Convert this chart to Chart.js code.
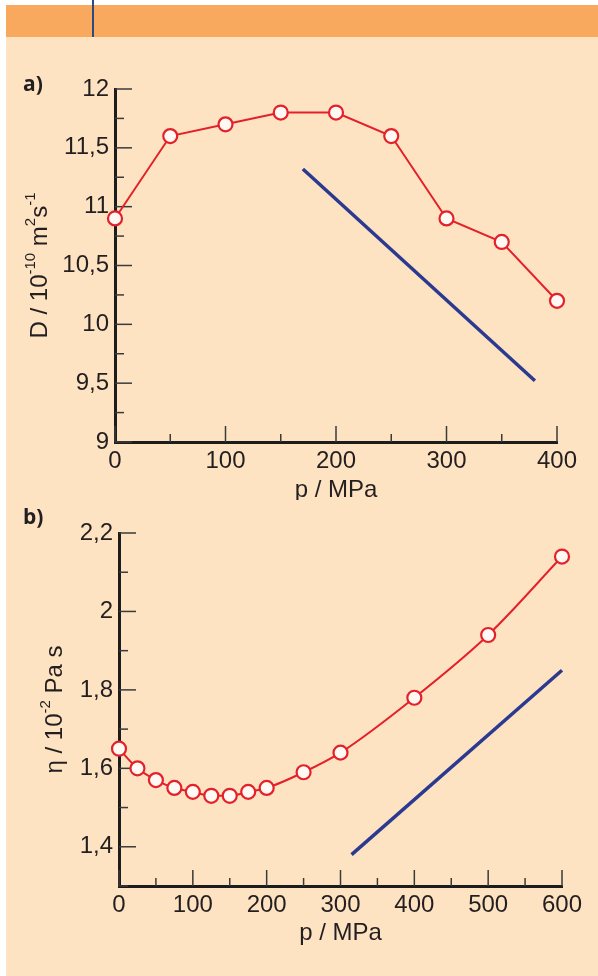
<!DOCTYPE html>
<html>
<head>
<meta charset="utf-8">
<script src="https://cdn.jsdelivr.net/npm/chart.js@4.4.1/dist/chart.umd.min.js"></script>
<style>
  body { margin: 0; background: #fff; width: 598px; height: 976px; position: relative; overflow: hidden; }
  #panel { position: absolute; left: 6px; top: 37px; width: 592px; height: 939px; background: #fee3c2; }
  #band { position: absolute; left: 6px; top: 5px; width: 592px; height: 32px; background: #f9a95e; }
  #rule { position: absolute; left: 92px; top: 0; width: 1.5px; height: 37px; background: #2d4b7c; }
  .tag { position: absolute; left: 23px; font: bold 21px "Open Sans", "DejaVu Sans", sans-serif; color: #231f20; }
  canvas { position: absolute; left: 0; }
</style>
</head>
<body>
<div id="panel"></div>
<div id="band"></div>
<div id="rule"></div>
<canvas id="chart_a" width="598" height="500" style="top:0"></canvas>
<canvas id="chart_b" width="598" height="476" style="top:500px"></canvas>
<div class="tag" style="top:69px">a)</div>
<div class="tag" style="top:502px">b)</div>
<script>
// panel a: diffusion coefficient vs pressure
const pressureA = [0, 50, 100, 150, 200, 250, 300, 350, 400];
const diffusion = [10.9, 11.6, 11.7, 11.8, 11.8, 11.6, 10.9, 10.7, 10.2];
const trendAx = [170, 380];
const trendAy = [11.32, 9.52];
const xLabelsA = [0, 100, 200, 300, 400];
const yLabelsA = [9, 9.5, 10, 10.5, 11, 11.5, 12];

// panel b: viscosity vs pressure
const pressureB = [0, 25, 50, 75, 100, 125, 150, 175, 200, 250, 300, 400, 500, 600];
const viscosity = [1.65, 1.60, 1.57, 1.55, 1.54, 1.53, 1.53, 1.54, 1.55, 1.59, 1.64, 1.78, 1.94, 2.14];
const trendBx = [315, 600];
const trendBy = [1.38, 1.85];
const xLabelsB = [0, 100, 200, 300, 400, 500, 600];
const yLabelsB = [1.4, 1.6, 1.8, 2, 2.2];

const RED = '#e4202a';
const BLUE = '#2b3990';
const INK = '#231f20';
const FONT = '"Liberation Sans", Arial, sans-serif';

function fmt(v) {
    return String(+v.toFixed(2)).replace('.', ',');
}

function isLabelled(list, v) {
    return list.some(m => Math.abs(m - v) < 1e-6);
}

/*
############################## Plugins ##############################
*/
// tick marks point into the plot, long for labelled ticks, short for the rest
const innerTicks = {
    id: 'innerTicks',
    beforeDatasetsDraw(chart) {
        const ctx = chart.ctx;
        const xs = chart.scales.x, ys = chart.scales.y;
        const area = chart.chartArea;
        ctx.save();
        ctx.strokeStyle = '#3a3a3a';
        ctx.lineWidth = 1.5;
        xs.ticks.forEach(t => {
            const px = xs.getPixelForValue(t.value);
            const len = t.label !== '' ? 16 : 8;
            ctx.beginPath();
            ctx.moveTo(px, area.bottom);
            ctx.lineTo(px, area.bottom - len);
            ctx.stroke();
        });
        ys.ticks.forEach(t => {
            const py = ys.getPixelForValue(t.value);
            const len = t.label !== '' ? 17 : 9;
            ctx.beginPath();
            ctx.moveTo(area.left, py);
            ctx.lineTo(area.left + len, py);
            ctx.stroke();
        });
        ctx.restore();
    }
};

function drawRich(ctx, parts, cx, cy, angle) {
    const big = '24px ' + FONT;
    const small = '15px ' + FONT;
    let total = 0;
    parts.forEach(p => {
        ctx.font = p.sup ? small : big;
        p.w = ctx.measureText(p.t).width;
        total += p.w;
    });
    ctx.save();
    ctx.translate(cx, cy);
    ctx.rotate(angle);
    let x = -total / 2;
    parts.forEach(p => {
        ctx.font = p.sup ? small : big;
        ctx.fillText(p.t, x, p.sup ? -12 : 0);
        x += p.w;
    });
    ctx.restore();
}

// axis titles with superscripts
const richTitles = {
    id: 'richTitles',
    afterDraw(chart, args, opts) {
        const ctx = chart.ctx, a = chart.chartArea;
        ctx.save();
        ctx.fillStyle = INK;
        ctx.textBaseline = 'alphabetic';
        drawRich(ctx, opts.xTitle, (a.left + a.right) / 2, a.bottom + opts.xOffset, 0);
        drawRich(ctx, opts.yTitle, a.left - opts.yOffset, (a.top + a.bottom) / 2, -Math.PI / 2);
        ctx.restore();
    }
};

/*
############################## Charts ##############################
*/
function draw_panel(canvasId, o) {
    return new Chart(document.getElementById(canvasId), {
        type: 'line',
        plugins: [innerTicks, richTitles],
        data: {
            datasets: [
                {
                    data: o.xs.map((x, i) => ({ x: x, y: o.ys[i] })),
                    borderColor: RED,
                    borderWidth: 2,
                    pointRadius: 7,
                    pointBorderWidth: 2.2,
                    pointBorderColor: RED,
                    pointBackgroundColor: '#fff9f3',
                    tension: o.tension,
                    cubicInterpolationMode: o.mode,
                    clip: false
                },
                {
                    data: o.tx.map((x, i) => ({ x: x, y: o.ty[i] })),
                    borderColor: BLUE,
                    borderWidth: 3.5,
                    pointRadius: 0,
                    clip: false
                }
            ]
        },
        options: {
            responsive: false,
            animation: false,
            layout: { padding: { top: o.padTop, right: o.padRight, left: 0, bottom: 0 } },
            plugins: {
                legend: { display: false },
                tooltip: { enabled: false },
                richTitles: { xTitle: o.xTitle, yTitle: o.yTitle, xOffset: o.xOffset, yOffset: o.yOffset }
            },
            scales: {
                x: {
                    type: 'linear',
                    min: o.xMin,
                    max: o.xMax,
                    afterFit: s => { s.height = o.xHeight; },
                    ticks: {
                        stepSize: o.xStep,
                        autoSkip: false,
                        maxRotation: 0,
                        padding: 5,
                        color: INK,
                        font: { family: FONT, size: 24 },
                        callback: v => isLabelled(o.xLabels, v) ? fmt(v) : ''
                    },
                    grid: { drawOnChartArea: false, drawTicks: false },
                    border: { color: '#1c1c1c', width: 3 }
                },
                y: {
                    min: o.yMin,
                    max: o.yMax,
                    afterFit: s => { s.width = o.yWidth; },
                    ticks: {
                        stepSize: o.yStep,
                        autoSkip: false,
                        padding: 6,
                        color: INK,
                        font: { family: FONT, size: 24 },
                        callback: v => isLabelled(o.yLabels, v) ? fmt(v) : ''
                    },
                    grid: { drawOnChartArea: false, drawTicks: false },
                    border: { color: '#1c1c1c', width: 3 }
                }
            }
        }
    });
}

draw_panel('chart_a', {
    xs: pressureA, ys: diffusion, tx: trendAx, ty: trendAy,
    tension: 0, mode: 'default',
    xMin: 0, xMax: 400, xStep: 50, xLabels: xLabelsA,
    yMin: 9, yMax: 12, yStep: 0.25, yLabels: yLabelsA,
    padTop: 89, padRight: 41, xHeight: 58, yWidth: 115,
    xTitle: [{ t: 'p / MPa' }],
    yTitle: [{ t: 'D / 10' }, { t: '-10', sup: true }, { t: ' m' }, { t: '2', sup: true }, { t: 's' }, { t: '-1', sup: true }],
    xOffset: 55, yOffset: 68
});

draw_panel('chart_b', {
    xs: pressureB, ys: viscosity, tx: trendBx, ty: trendBy,
    tension: 0.4, mode: 'monotone',
    xMin: 0, xMax: 600, xStep: 50, xLabels: xLabelsB,
    yMin: 1.3, yMax: 2.2, yStep: 0.1, yLabels: yLabelsB,
    padTop: 33, padRight: 36, xHeight: 90, yWidth: 119,
    xTitle: [{ t: 'p / MPa' }],
    yTitle: [{ t: '\u03b7 / 10' }, { t: '-2', sup: true }, { t: ' Pa s' }],
    xOffset: 54, yOffset: 57
});
</script>
</body>
</html>
